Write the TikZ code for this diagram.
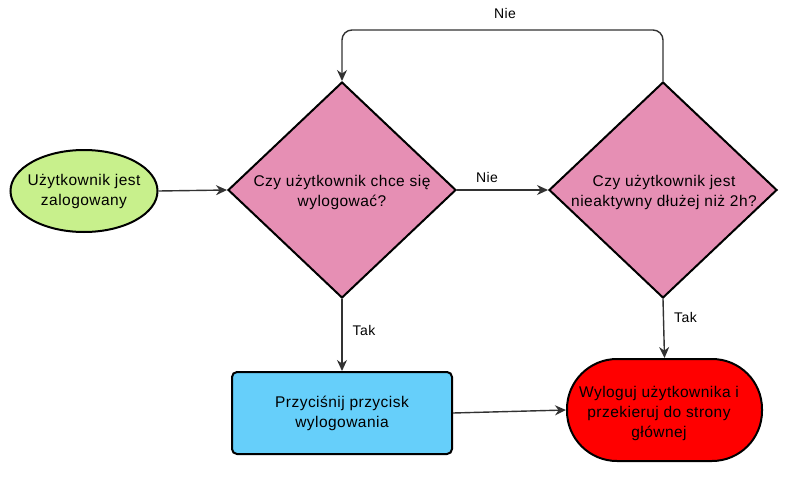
\documentclass[tikz,border=0pt]{standalone}
\usepackage{fontspec}
\setmainfont{Liberation Sans}[LetterSpace=3]
\usetikzlibrary{shapes.geometric,arrows.meta}
\definecolor{startgreen}{RGB}{200,240,140}
\definecolor{decpink}{RGB}{230,143,180}
\definecolor{procblue}{RGB}{102,207,250}
\definecolor{endred}{RGB}{255,0,0}
\definecolor{linegray}{RGB}{50,50,50}
\tikzset{
  shapeborder/.style={draw=black, line width=2pt},
  decision/.style={shapeborder, diamond, fill=decpink, inner sep=0pt, minimum width=228pt, minimum height=216pt},
  txt/.style={align=center, font=\fontsize{15.5}{20}\selectfont, inner sep=0pt},
  lbl/.style={font=\fontsize{14}{16}\selectfont, inner sep=0pt},
  conn/.style={draw=linegray, line width=1.4pt, -{Stealth[length=11pt,width=10pt]}},
}
\begin{document}
\begin{tikzpicture}[x=1pt,y=-1pt]
\useasboundingbox (0,0) rectangle (800,479);
\node[shapeborder, ellipse, fill=startgreen, minimum width=147pt, minimum height=82pt, inner sep=0pt] (start) at (84,191) {};
\node[txt] at (start) {Użytkownik jest\\zalogowany};
\node[decision] (d1) at (342,190) {};
\node[txt] at (342,192) {Czy użytkownik chce się\\wylogować?};
\node[decision] (d2) at (663,190) {};
\node[txt] at (664,192) {Czy użytkownik jest\\nieaktywny dłużej niż 2h?};
\node[shapeborder, rectangle, rounded corners=5pt, fill=procblue, minimum width=220pt, minimum height=82pt, inner sep=0pt] (btn) at (342,413) {};
\node[txt] at (btn) {Przyciśnij przycisk\\wylogowania};
\node[shapeborder, rectangle, rounded corners=50pt, fill=endred, minimum width=195pt, minimum height=102pt, inner sep=0pt] (end) at (664.5,410) {};
\node[txt] at (659,413) {Wyloguj użytkownika i\\przekieruj do strony\\głównej};
\coordinate (top) at (503,30);
\draw[conn] (start.east) -- (d1.west);
\draw[conn] (d1.east) -- node[lbl, pos=0.33, above=7pt] {Nie} (d2.west);
\draw[conn] (d1.south) -- node[lbl, pos=0.44, right=10pt] {Tak} (btn.north);
\draw[conn] (d2.south) -- node[lbl, pos=0.32, right=10pt] {Tak} (end.north);
\draw[conn] (btn.east) -- (end.west);
\draw[conn, rounded corners=10pt] (d2.north) |- (top) -| (d1.north);
\node[lbl] at (505,13) {Nie};
\end{tikzpicture}
\end{document}
